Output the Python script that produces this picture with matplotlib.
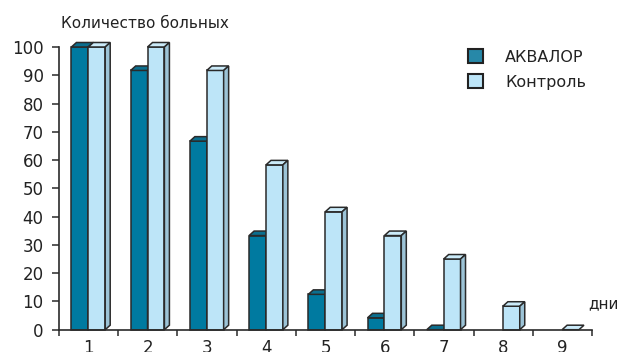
import matplotlib
matplotlib.use("Agg")
import matplotlib.pyplot as plt
from matplotlib.patches import Polygon, Patch
import numpy as np

plt.rcParams['font.family'] = ['DejaVu Sans']

days = ["1", "2", "3", "4", "5", "6", "7", "8", "9"]
akvalor = [100, 91.7, 66.7, 33.3, 12.5, 4.2, 0, None, None]
control = [100, 100, 91.7, 58.3, 41.7, 33.3, 25, 8.3, 0]
series_names = ["АКВАЛОР", "Контроль"]
y_ticks = [0, 10, 20, 30, 40, 50, 60, 70, 80, 90, 100]

W, H = 621, 352
fig = plt.figure(figsize=(W / 100, H / 100), dpi=100)
left_px, right_px, bottom_px, top_px = 59, 592, 329.7, 47
ax = fig.add_axes([left_px / W, (H - bottom_px) / H, (right_px - left_px) / W, (bottom_px - top_px) / H])
ax.set_xlim(0.5, 9.5)
ax.set_ylim(0, 100)

# depth in data units
px_x = (right_px - left_px) / 9.0
px_y = (bottom_px - top_px) / 100.0
dx = 5.0 / px_x
dy = 4.5 / px_y

dark_front = "#007AA0"
dark_top = "#0B6F8F"
dark_side = "#06607C"
light_front = "#BDE5F8"
light_top = "#CBEBF9"
light_side = "#9CC3D6"
edge = "#2A2A2A"
w = 0.285


def bar3d(x0, h, front, top, side, z):
    x1 = x0 + w
    if h > 0:
        ax.add_patch(Polygon([(x0, 0), (x1, 0), (x1, h), (x0, h)], closed=True,
                             facecolor=front, edgecolor=edge, lw=1.1, zorder=z, clip_on=False))
    ax.add_patch(Polygon([(x0, h), (x1, h), (x1 + dx, h + dy), (x0 + dx, h + dy)], closed=True,
                         facecolor=top, edgecolor=edge, lw=1.1, zorder=z, clip_on=False))
    if h > 0:
        ax.add_patch(Polygon([(x1, 0), (x1 + dx, dy), (x1 + dx, h + dy), (x1, h)], closed=True,
                             facecolor=side, edgecolor=edge, lw=1.1, zorder=z, clip_on=False))


for i in range(len(days)):
    c = i + 1
    z = 3 + i * 2
    if akvalor[i] is not None:
        bar3d(c - w - 0.005, akvalor[i], dark_front, dark_top, dark_side, z)
    if control[i] is not None:
        bar3d(c - 0.005, control[i], light_front, light_top, light_side, z + 1)

for s in ["top", "right"]:
    ax.spines[s].set_visible(False)
for s in ["left", "bottom"]:
    ax.spines[s].set_color(edge)
    ax.spines[s].set_linewidth(1.2)
    ax.spines[s].set_zorder(30)

ax.set_yticks(y_ticks)
ax.set_yticklabels([str(v) for v in y_ticks], fontsize=12, color="#222222")
ax.tick_params(axis="y", direction="out", length=5, width=1.1, color=edge, pad=6)

ax.set_xticks(np.arange(0.5, 10, 1.0))
ax.set_xticklabels([])
ax.tick_params(axis="x", which="major", direction="out", length=4, width=1.1, color=edge)
ax.set_xticks(np.arange(1, 10), minor=True)
ax.set_xticklabels(days, minor=True, fontsize=12, color="#222222")
ax.tick_params(axis="x", which="minor", length=0, pad=7)

fig.text(61 / W, (H - 28) / H, "Количество больных", fontsize=11, color="#222222", va="baseline", ha="left")
fig.text(588 / W, (H - 308) / H, "дни", fontsize=11, color="#222222", va="baseline", ha="left")

handles = [Patch(facecolor="#2788A8", edgecolor="#222222", lw=1.5),
           Patch(facecolor="#BDE5F8", edgecolor="#222222", lw=1.5)]
fig.legend(handles, series_names, loc="upper left", bbox_to_anchor=(454 / W, (H - 35) / H),
           frameon=False, fontsize=11.5, handlelength=0.9, handleheight=0.9,
           handletextpad=1.4, labelspacing=0.62, labelcolor="#222222")

fig.savefig("out.png", dpi=100)
